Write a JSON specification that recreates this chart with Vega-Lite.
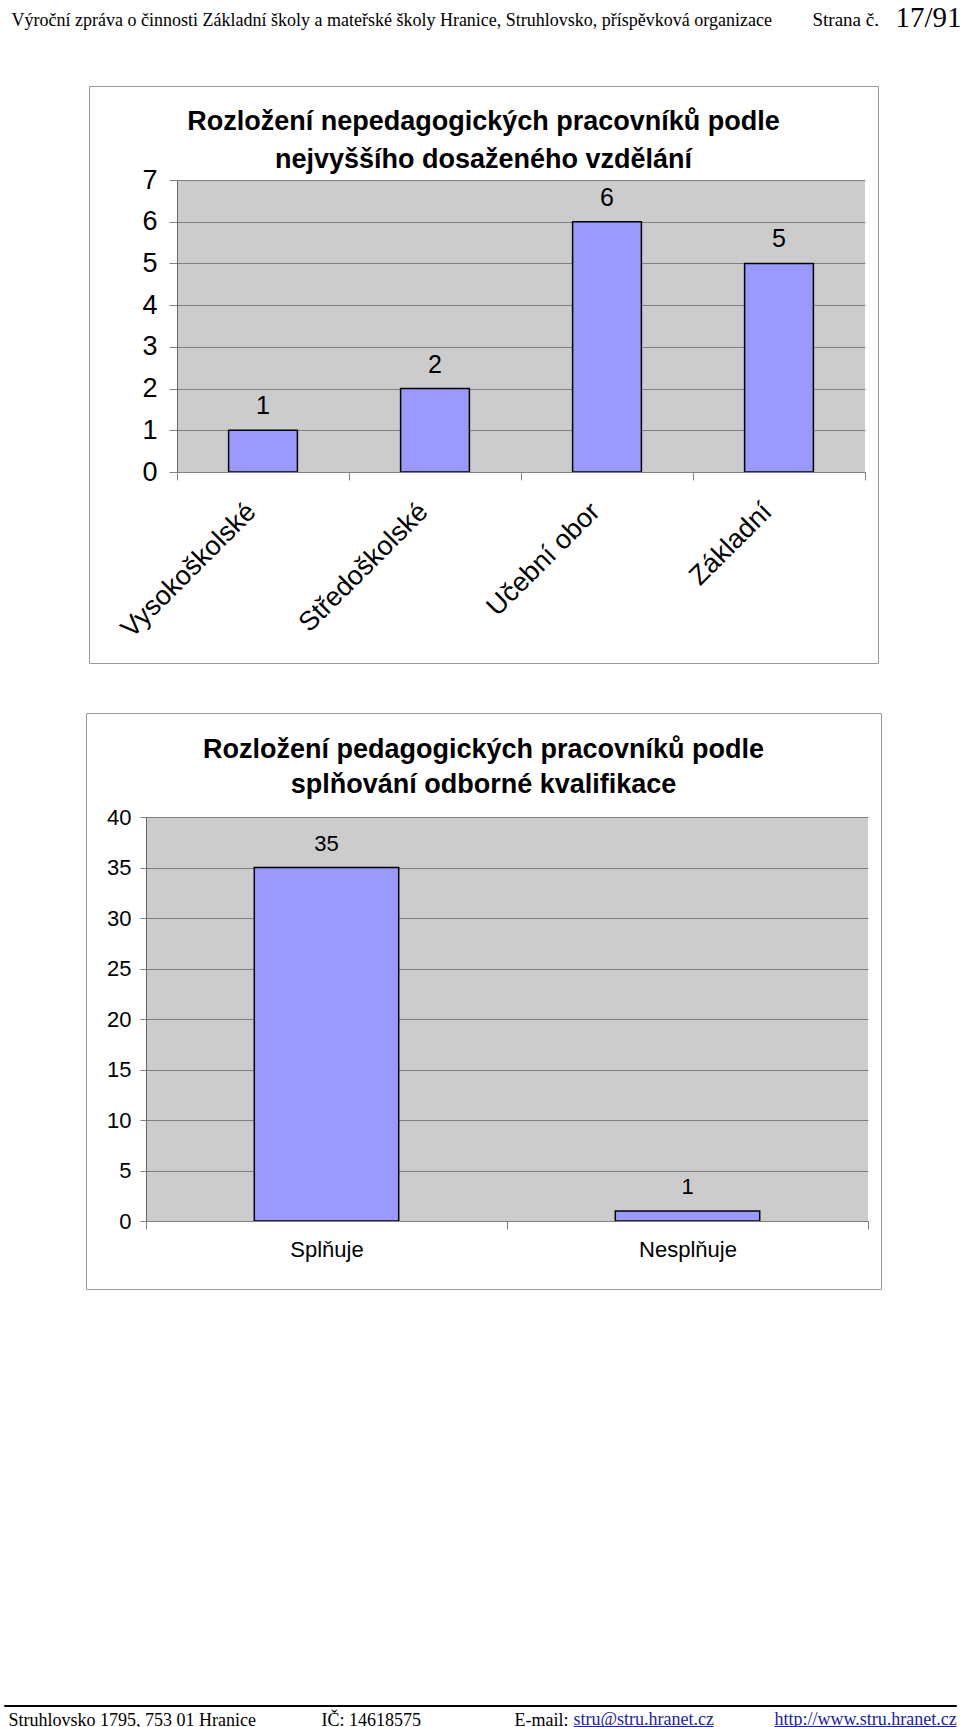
{
  "$schema": "https://vega.github.io/schema/vega-lite/v6.json",
  "background": "white",
  "padding": {"left": 3, "top": 0, "right": 0, "bottom": 0},
  "bounds": "full",
  "spacing": 0,
  "vconcat": [
    {
      "hconcat": [
        {"width": 808, "height": 85, "view": {"stroke": null}, "data": {"values": []}, "mark": "point",
         "encoding": {"x": {"field": "u", "type": "quantitative", "scale": {"domain": [0, 1], "range": [0, 808]},
           "axis": {"orient": "top", "offset": -25, "domain": false, "ticks": false, "labels": false, "grid": false, "title": "Výroční zpráva o činnosti Základní školy a mateřské školy Hranice, Struhlovsko, příspěvková organizace", "titleFont": "Liberation Serif", "titleFontSize": 18, "titleFontWeight": "normal", "titleColor": "#000000", "titleAnchor": "start", "titleAlign": "left", "titleBaseline": "alphabetic", "titleX": 7, "titleY": 0, "titleLimit": 2000}}}},
        {"width": 83, "height": 85, "view": {"stroke": null}, "data": {"values": []}, "mark": "point",
         "encoding": {"x": {"field": "u", "type": "quantitative", "scale": {"domain": [0, 1], "range": [0, 83]},
           "axis": {"orient": "top", "offset": -25, "domain": false, "ticks": false, "labels": false, "grid": false, "title": "Strana č.", "titleFont": "Liberation Serif", "titleFontSize": 19, "titleFontWeight": "normal", "titleColor": "#000000", "titleAnchor": "start", "titleAlign": "left", "titleBaseline": "alphabetic", "titleX": 0, "titleY": 0, "titleLimit": 2000}}}},
        {"width": 66, "height": 85, "view": {"stroke": null}, "data": {"values": []}, "mark": "point",
         "encoding": {"x": {"field": "u", "type": "quantitative", "scale": {"domain": [0, 1], "range": [0, 66]},
           "axis": {"orient": "top", "offset": -26, "domain": false, "ticks": false, "labels": false, "grid": false, "title": "17/91", "titleFont": "Liberation Serif", "titleFontSize": 29, "titleFontWeight": "normal", "titleColor": "#000000", "titleAnchor": "start", "titleAlign": "left", "titleBaseline": "alphabetic", "titleX": 0, "titleY": 0, "titleLimit": 2000}}}}
      ],
      "spacing": 0, "bounds": "flush"
    },
    {
      "hconcat": [
        {"width": 85, "height": 626, "view": {"stroke": null}, "data": {"values": []}, "mark": "point"},
        {
          "width": 789, "height": 577,
          "view": {"stroke": "#9a9a9a", "strokeWidth": 1},
          "title": {"text": ["Rozložení nepedagogických pracovníků podle", "nejvyššího dosaženého vzdělání"], "orient": "top", "anchor": "middle", "frame": "group", "baseline": "alphabetic", "offset": -109.4, "lineHeight": 38, "font": "Liberation Sans", "fontSize": 27, "fontWeight": "bold", "color": "#000000"},
          "data": {"values": [
            {"vzdelani": "Vysokoškolské", "pocet": 1},
            {"vzdelani": "Středoškolské", "pocet": 2},
            {"vzdelani": "Učební obor", "pocet": 6},
            {"vzdelani": "Základní", "pocet": 5}
          ]},
          "encoding": {
            "x": {"field": "vzdelani", "type": "nominal", "sort": null,
                  "scale": {"type": "band", "range": [88, 776], "paddingInner": 0, "paddingOuter": 0},
                  "axis": {"title": null, "orient": "bottom", "offset": -191, "labelAngle": -45, "labelFontSize": 27, "labelPadding": 18, "labelOffset": -21, "tickSize": 8, "tickBand": "extent", "domainColor": "#808080", "tickColor": "#808080", "labelOverlap": false, "labelLimit": 400, "grid": false, "labelColor": "#000000"}},
            "y": {"field": "pocet", "type": "quantitative",
                  "scale": {"domain": [0, 7], "range": [386, 94], "nice": false, "zero": true},
                  "axis": {"title": null, "orient": "left", "offset": -88, "values": [0, 1, 2, 3, 4, 5, 6, 7], "labelFontSize": 27, "labelPadding": 12, "tickSize": 8, "grid": true, "gridColor": "#a0a0a0", "gridWidth": 1, "domainColor": "#808080", "tickColor": "#808080", "labelColor": "#000000"}}
          },
          "layer": [
            {"mark": {"type": "rect", "fill": "#000000", "fillOpacity": 0.2},
             "encoding": {"y": {"datum": 0, "type": "quantitative",
                  "axis": {"title": null, "orient": "left", "offset": -88, "values": [0, 1, 2, 3, 4, 5, 6, 7], "labelFontSize": 27, "labelPadding": 12, "tickSize": 8, "grid": true, "gridColor": "#a0a0a0", "gridWidth": 1, "domainColor": "#808080", "tickColor": "#808080", "labelColor": "#000000"}},
                  "y2": {"datum": 7}}},
            {"mark": {"type": "bar", "width": {"band": 0.4}, "fill": "#9999ff", "stroke": "#000000", "strokeWidth": 1.5}},
            {"mark": {"type": "text", "baseline": "middle", "dy": -24, "fontSize": 25, "font": "Liberation Sans", "color": "#000000"},
             "encoding": {"text": {"field": "pocet", "type": "quantitative"}}}
          ]
        }
      ],
      "spacing": 0, "bounds": "flush"
    },
    {
      "hconcat": [
        {"width": 82, "height": 991, "view": {"stroke": null}, "data": {"values": []}, "mark": "point"},
        {
          "width": 795, "height": 576,
          "view": {"stroke": "#9a9a9a", "strokeWidth": 1},
          "title": {"text": ["Rozložení pedagogických pracovníků podle", "splňování odborné kvalifikace"], "orient": "top", "anchor": "middle", "frame": "group", "baseline": "alphabetic", "offset": -107.1, "lineHeight": 35, "font": "Liberation Sans", "fontSize": 27, "fontWeight": "bold", "color": "#000000"},
          "data": {"values": [
            {"kvalifikace": "Splňuje", "pocet": 35},
            {"kvalifikace": "Nesplňuje", "pocet": 1}
          ]},
          "encoding": {
            "x": {"field": "kvalifikace", "type": "nominal", "sort": null,
                  "scale": {"type": "band", "range": [60, 782], "paddingInner": 0, "paddingOuter": 0},
                  "axis": {"title": null, "orient": "bottom", "offset": -68, "labelAngle": 0, "labelFontSize": 22, "labelPadding": 10, "tickSize": 8, "tickBand": "extent", "domainColor": "#808080", "tickColor": "#808080", "labelOverlap": false, "grid": false, "labelColor": "#000000"}},
            "y": {"field": "pocet", "type": "quantitative",
                  "scale": {"domain": [0, 40], "range": [508, 104], "nice": false, "zero": true},
                  "axis": {"title": null, "orient": "left", "offset": -60, "values": [0, 5, 10, 15, 20, 25, 30, 35, 40], "labelFontSize": 22, "labelPadding": 9, "tickSize": 6, "grid": true, "gridColor": "#a0a0a0", "gridWidth": 1, "domainColor": "#808080", "tickColor": "#808080", "labelColor": "#000000"}}
          },
          "layer": [
            {"mark": {"type": "rect", "fill": "#000000", "fillOpacity": 0.2},
             "encoding": {"y": {"datum": 0, "type": "quantitative",
                  "axis": {"title": null, "orient": "left", "offset": -60, "values": [0, 5, 10, 15, 20, 25, 30, 35, 40], "labelFontSize": 22, "labelPadding": 9, "tickSize": 6, "grid": true, "gridColor": "#a0a0a0", "gridWidth": 1, "domainColor": "#808080", "tickColor": "#808080", "labelColor": "#000000"}},
                  "y2": {"datum": 40}}},
            {"mark": {"type": "bar", "width": {"band": 0.4}, "fill": "#9999ff", "stroke": "#000000", "strokeWidth": 1.5}},
            {"mark": {"type": "text", "baseline": "middle", "dy": -24, "fontSize": 22, "font": "Liberation Sans", "color": "#000000"},
             "encoding": {"text": {"field": "pocet", "type": "quantitative"}}}
          ]
        }
      ],
      "spacing": 0, "bounds": "flush"
    },
    {
      "hconcat": [
        {"width": 317, "height": 1, "view": {"stroke": "#000000", "strokeWidth": 1}, "data": {"values": []}, "mark": "point",
         "encoding": {"x": {"field": "u", "type": "quantitative", "scale": {"domain": [0, 1], "range": [0, 317]},
           "axis": {"orient": "top", "offset": -21, "domain": false, "ticks": false, "labels": false, "grid": false, "title": "Struhlovsko 1795, 753 01 Hranice", "titleFont": "Liberation Serif", "titleFontSize": 18, "titleFontWeight": "normal", "titleColor": "#000000", "titleAnchor": "start", "titleAlign": "left", "titleBaseline": "alphabetic", "titleX": 4, "titleY": -1, "titleLimit": 2000}}}},
        {"width": 193, "height": 1, "view": {"stroke": "#000000", "strokeWidth": 1}, "data": {"values": []}, "mark": "point",
         "encoding": {"x": {"field": "u", "type": "quantitative", "scale": {"domain": [0, 1], "range": [0, 193]},
           "axis": {"orient": "top", "offset": -21, "domain": false, "ticks": false, "labels": false, "grid": false, "title": "IČ: 14618575", "titleFont": "Liberation Serif", "titleFontSize": 18, "titleFontWeight": "normal", "titleColor": "#000000", "titleAnchor": "start", "titleAlign": "left", "titleBaseline": "alphabetic", "titleX": 0, "titleY": -1, "titleLimit": 2000}}}},
        {"width": 59, "height": 1, "view": {"stroke": "#000000", "strokeWidth": 1}, "data": {"values": []}, "mark": "point",
         "encoding": {"x": {"field": "u", "type": "quantitative", "scale": {"domain": [0, 1], "range": [0, 59]},
           "axis": {"orient": "top", "offset": -21, "domain": false, "ticks": false, "labels": false, "grid": false, "title": "E-mail:", "titleFont": "Liberation Serif", "titleFontSize": 18, "titleFontWeight": "normal", "titleColor": "#000000", "titleAnchor": "start", "titleAlign": "left", "titleBaseline": "alphabetic", "titleX": 0, "titleY": -1, "titleLimit": 2000}}}},
        {"width": 201, "height": 1, "view": {"stroke": "#000000", "strokeWidth": 1}, "data": {"values": []}, "mark": "point",
         "encoding": {"x": {"field": "u", "type": "quantitative", "scale": {"domain": [0, 1], "range": [0, 140]},
           "axis": {"orient": "top", "offset": -21, "domain": true, "domainColor": "#2020b0", "domainWidth": 1, "ticks": false, "labels": false, "grid": false, "title": "stru@stru.hranet.cz", "titleFont": "Liberation Serif", "titleFontSize": 18, "titleFontWeight": "normal", "titleColor": "#2020b0", "titleAnchor": "start", "titleAlign": "left", "titleBaseline": "alphabetic", "titleX": 0, "titleY": -2, "titleLimit": 2000}}}},
        {"width": 182, "height": 1, "view": {"stroke": "#000000", "strokeWidth": 1}, "data": {"values": []}, "mark": "point",
         "encoding": {"x": {"field": "u", "type": "quantitative", "scale": {"domain": [0, 1], "range": [0, 182]},
           "axis": {"orient": "top", "offset": -21, "domain": true, "domainColor": "#2020b0", "domainWidth": 1, "ticks": false, "labels": false, "grid": false, "title": "http://www.stru.hranet.cz", "titleFont": "Liberation Serif", "titleFontSize": 18, "titleFontWeight": "normal", "titleColor": "#2020b0", "titleAnchor": "start", "titleAlign": "left", "titleBaseline": "alphabetic", "titleX": 0, "titleY": -2, "titleLimit": 2000}}}}
      ],
      "spacing": 0, "bounds": "flush"
    }
  ],
  "config": {
    "font": "Liberation Sans",
    "view": {"stroke": null},
    "axis": {"labelFont": "Liberation Sans"}
  }
}
